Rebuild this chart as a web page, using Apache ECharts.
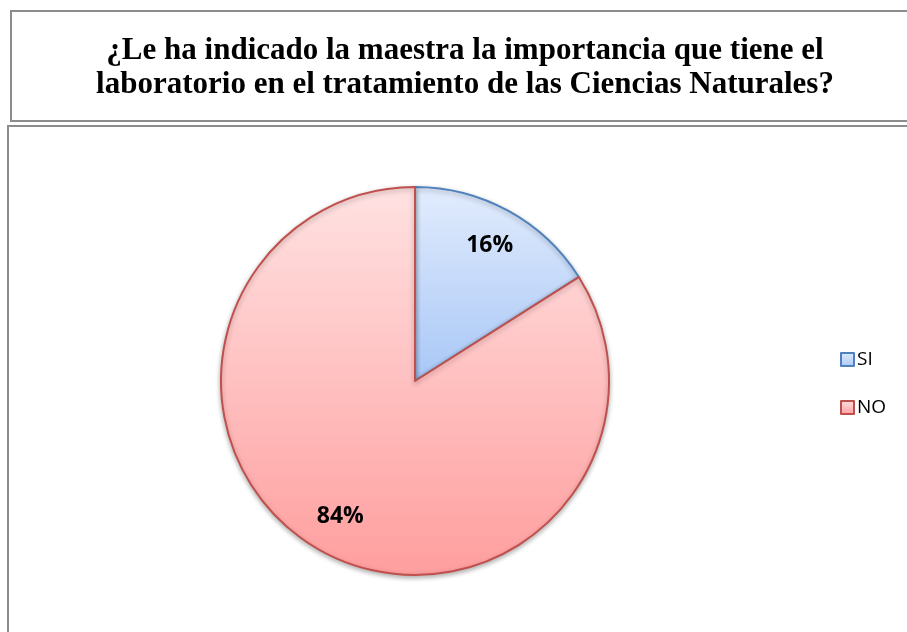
<!DOCTYPE html>
<html>
<head>
<meta charset="utf-8">
<script src="https://cdn.jsdelivr.net/npm/echarts@6/dist/echarts.min.js"></script>
<style>
  html, body { margin: 0; padding: 0; background: #fff; }
  #chart { width: 907px; height: 632px; }
</style>
</head>
<body>
<div id="chart"></div>
<script>
const titleText = "¿Le ha indicado la maestra la importancia que tiene el\nlaboratorio en el tratamiento de las Ciencias Naturales?";
const categories = ["SI", "NO"];
const percents = [16, 84];

const fills = [
  ["#e2ecfd", "#a8c7f6"],
  ["#ffe2e2", "#ff9e9e"]
];
const borders = ["#4f81bd", "#c0504d"];

const pieData = categories.map((name, i) => ({
  name: name,
  value: percents[i],
  itemStyle: {
    color: new echarts.graphic.LinearGradient(0, 0, 0, 1, [
      { offset: 0, color: fills[i][0] },
      { offset: 1, color: fills[i][1] }
    ]),
    borderColor: borders[i],
    borderWidth: 2
  }
}));

const chart = echarts.init(document.getElementById("chart"));
chart.setOption({
  animation: false,
  title: {
    text: titleText,
    left: 460,
    top: 29,
    textAlign: "center",
    textStyle: {
      fontFamily: "Liberation Serif",
      fontWeight: "bold",
      fontSize: 31,
      lineHeight: 34,
      color: "#000"
    }
  },
  graphic: [
    {
      type: "rect",
      shape: { x: 11, y: 11, width: 920, height: 110 },
      style: { fill: "none", stroke: "#8c8c8c", lineWidth: 2 },
      z: -1
    },
    {
      type: "rect",
      shape: { x: 8, y: 126, width: 920, height: 530 },
      style: { fill: "none", stroke: "#8c8c8c", lineWidth: 2 },
      z: -1
    }
  ],
  legend: {
    orient: "vertical",
    left: 835,
    top: 345,
    itemWidth: 13,
    itemHeight: 13,
    itemGap: 29,
    icon: "rect",
    data: categories,
    textStyle: { fontFamily: "Open Sans", fontSize: 19, color: "#000", padding: [0, 0, 0, -2] }
  },
  series: [
    {
      type: "pie",
      center: [415, 381],
      radius: 194,
      startAngle: 90,
      clockwise: true,
      label: { show: false },
      labelLine: { show: false },
      itemStyle: {
        shadowBlur: 5,
        shadowOffsetY: 2,
        shadowColor: "rgba(0,0,0,0.3)"
      },
      emphasis: { disabled: true },
      data: pieData
    },
    {
      type: "pie",
      center: [415, 381],
      radius: [110, 194],
      startAngle: 90,
      clockwise: true,
      silent: true,
      legendHoverLink: false,
      itemStyle: { color: "rgba(0,0,0,0)" },
      label: {
        show: true,
        position: "inside",
        formatter: "{c}%",
        fontFamily: "Open Sans",
        fontWeight: "bold",
        fontSize: 23,
        color: "#000"
      },
      labelLine: { show: false },
      emphasis: { disabled: true },
      data: categories.map((name, i) => ({ name: name, value: percents[i] }))
    }
  ]
});
</script>
</body>
</html>
